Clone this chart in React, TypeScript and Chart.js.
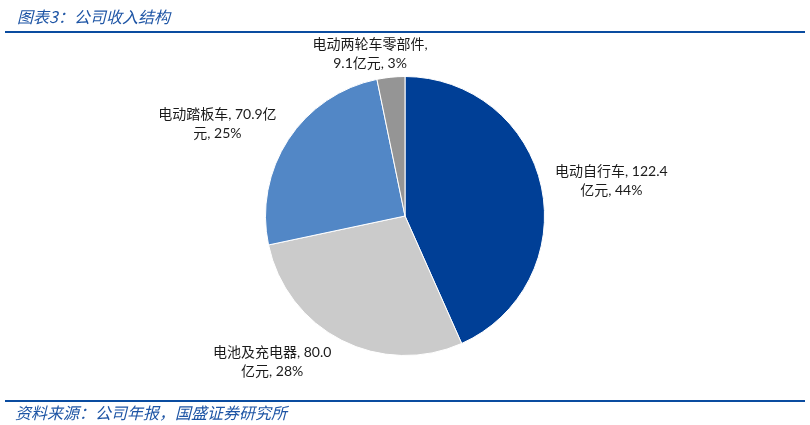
import React, { useEffect, useRef } from "react";
import { Chart, registerables } from "chart.js";

Chart.register(...registerables);

const categories = ["电动自行车", "电池及充电器", "电动踏板车", "电动两轮车零部件"];
const values = [122.4, 80.0, 70.9, 9.1];
const percents = ["44%", "28%", "25%", "3%"];
// label text split into two lines (as wrapped in the reference)
const labelLines = [
  ["电动自行车, 122.4", "亿元, 44%"],
  ["电池及充电器, 80.0", "亿元, 28%"],
  ["电动踏板车, 70.9亿", "元, 25%"],
  ["电动两轮车零部件,", "9.1亿元, 3%"],
];
const colors = ["#003F96", "#CBCBCB", "#5287C6", "#959595"];
const labelNudge = [
  [5, 0],
  [-38, -4],
  [-13, 0],
  [-14, 6],
];

const LABEL_FONT = "14px Lato, 'Noto Sans CJK SC', sans-serif";
const LINE_H = 19;

const outsideLabels = {
  id: "outsideLabels",
  afterDatasetsDraw(chart: any) {
    const ctx = chart.ctx;
    const meta = chart.getDatasetMeta(0);
    ctx.save();
    ctx.font = LABEL_FONT;
    ctx.fillStyle = "#1a1a1a";
    ctx.textAlign = "center";
    ctx.textBaseline = "middle";
    meta.data.forEach((arc: any, i: number) => {
      const p = arc.getProps(["x", "y", "startAngle", "endAngle", "outerRadius"], true);
      const mid = (p.startAngle + p.endAngle) / 2;
      const c = Math.cos(mid);
      const s = Math.sin(mid);
      const lines = labelLines[i];
      const w = Math.max(...lines.map((l) => ctx.measureText(l).width));
      const h = lines.length * LINE_H;
      const r = p.outerRadius + 10;
      const cx = p.x + r * c + (c * w) / 2 + labelNudge[i][0];
      const cy = p.y + r * s + (s * h) / 2 + labelNudge[i][1];
      lines.forEach((l, k) => {
        ctx.fillText(l, cx, cy - h / 2 + LINE_H * (k + 0.5));
      });
    });
    ctx.restore();
  },
};

export default function App() {
  const ref = useRef<HTMLCanvasElement>(null);
  useEffect(() => {
    document.body.style.margin = "0";
    const chart = new Chart(ref.current!, {
      type: "pie",
      data: {
        labels: categories,
        datasets: [
          {
            data: values,
            backgroundColor: colors,
            borderColor: "#ffffff",
            borderWidth: 1,
          },
        ],
      },
      options: {
        animation: false,
        responsive: false,
        layout: { padding: { top: 76, bottom: 69, left: 265, right: 265 } },
        plugins: {
          legend: { display: false },
          tooltip: { enabled: false },
        },
      },
      plugins: [outsideLabels],
    });
    return () => chart.destroy();
  }, []);

  const blue = "#1E55A5";
  return (
    <div style={{ position: "relative", width: 810, height: 425, background: "#fff", overflow: "hidden" }}>
      <canvas ref={ref} width={810} height={425} style={{ position: "absolute", left: 0, top: 0, width: 810, height: 425 }} />
      <div
        style={{
          position: "absolute",
          left: 17,
          top: 5,
          fontFamily: "'Noto Sans CJK SC', sans-serif",
          fontStyle: "italic",
          fontSize: 16,
          color: blue,
          lineHeight: "22px",
          whiteSpace: "nowrap",
        }}
      >
        图表3：公司收入结构
      </div>
      <div style={{ position: "absolute", left: 5, top: 31, width: 800, height: 2, background: "#0A4CA0" }} />
      <div style={{ position: "absolute", left: 5, top: 400, width: 800, height: 2, background: "#0A4CA0" }} />
      <div
        style={{
          position: "absolute",
          left: 15,
          top: 402,
          fontFamily: "'Noto Sans CJK SC', sans-serif",
          fontStyle: "italic",
          fontSize: 16,
          color: blue,
          lineHeight: "20px",
          whiteSpace: "nowrap",
        }}
      >
        资料来源：公司年报，国盛证券研究所
      </div>
    </div>
  );
}
